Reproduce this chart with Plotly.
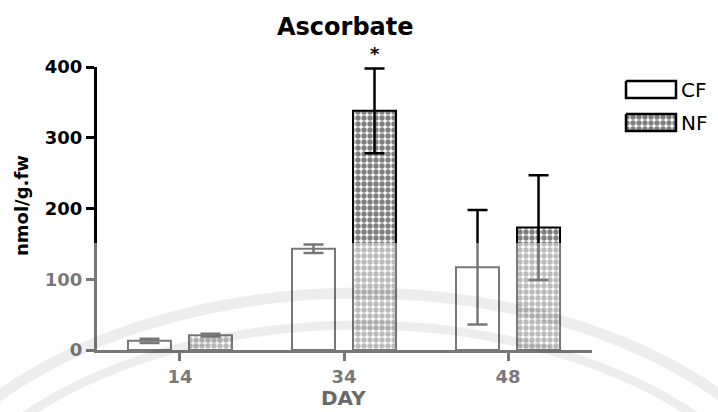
import plotly.graph_objects as go

# Ascorbate content (nmol/g.fw) by sampling day, mean and error
days = ["14", "34", "48"]
cf_mean = [13, 143, 117]
cf_err = [3, 6, 81]
nf_mean = [21, 338, 173]
nf_err = [2, 60, 74]
y_ticks = [0, 100, 200, 300, 400]
star_day = "34"

W, H = 718, 412
FONT = "DejaVu Sans"


def px(x):
    return x / W


def py(y):
    return 1 - y / H


checker = dict(shape=".", size=6, solidity=0.62, fgcolor="black", bgcolor="white")

fig = go.Figure()

fig.add_trace(go.Bar(
    name="CF", x=days, y=cf_mean,
    error_y=dict(type="data", array=cf_err, visible=True,
                 color="black", thickness=2.5, width=10),
    marker=dict(color="white", line=dict(color="black", width=2)),
    showlegend=False,
))
fig.add_trace(go.Bar(
    name="NF", x=days, y=nf_mean,
    error_y=dict(type="data", array=nf_err, visible=True,
                 color="black", thickness=2.5, width=10),
    marker=dict(color="white", line=dict(color="black", width=2), pattern=checker),
    showlegend=False,
))

# legend boxes drawn on a full-figure overlay axis (pixel units)
box_x = [626, 676, 676, 626, 626]
fig.add_trace(go.Scatter(
    x=box_x, y=[81, 81, 98, 98, 81], xaxis="x2", yaxis="y2",
    mode="lines", fill="toself", fillcolor="white",
    line=dict(color="black", width=2.5), showlegend=False, hoverinfo="skip",
))
fig.add_trace(go.Scatter(
    x=box_x, y=[114, 114, 131, 131, 114], xaxis="x2", yaxis="y2",
    mode="lines", fill="toself", fillpattern=checker,
    line=dict(color="black", width=2.5), showlegend=False, hoverinfo="skip",
))

si = days.index(star_day)
annotations = [
    dict(text="<b>Ascorbate</b>", x=px(345), y=py(27), xref="paper", yref="paper",
         xanchor="center", yanchor="middle", showarrow=False,
         font=dict(family=FONT, size=24, color="black")),
    dict(text="<b>nmol/g.fw</b>", x=px(21), y=py(206), xref="paper", yref="paper",
         xanchor="center", yanchor="middle", textangle=-90, showarrow=False,
         font=dict(family=FONT, size=18, color="black")),
    dict(text="<b>DAY</b>", x=px(343), y=0, xref="paper", yref="paper",
         xanchor="center", yanchor="bottom", showarrow=False,
         font=dict(family=FONT, size=20, color="#6a6a6a")),
    dict(text="CF", x=px(679), y=py(90), xref="paper", yref="paper",
         xanchor="left", yanchor="middle", showarrow=False,
         font=dict(family=FONT, size=20, color="black")),
    dict(text="NF", x=px(679), y=py(123), xref="paper", yref="paper",
         xanchor="left", yanchor="middle", showarrow=False,
         font=dict(family=FONT, size=20, color="black")),
    dict(text="<b>*</b>", x=si, y=nf_mean[si] + nf_err[si], xref="x", yref="y",
         xshift=31, yshift=2, xanchor="center", yanchor="bottom", showarrow=False,
         font=dict(family=FONT, size=18, color="black")),
]

shapes = [
    # faded lower part of the page
    dict(type="rect", xref="paper", yref="paper", x0=0, x1=1, y0=0, y1=py(243),
         fillcolor="rgba(255,255,255,0.47)", line=dict(width=0), layer="above"),
]
# faint watermark rings
for rx, ry, w in [(479, 300, 11), (447, 268, 9)]:
    cx, cy = 360, 593
    shapes.append(dict(type="circle", xref="paper", yref="paper",
                       x0=px(cx - rx), x1=px(cx + rx), y0=py(cy + ry), y1=py(cy - ry),
                       line=dict(color="rgba(0,0,0,0.07)", width=w), layer="above"))

tick_font = dict(family=FONT, size=18, color="black", weight="bold")

fig.update_layout(
    width=W, height=H,
    margin=dict(l=0, r=0, t=0, b=0, pad=0, autoexpand=False),
    paper_bgcolor="white", plot_bgcolor="rgba(0,0,0,0)",
    barmode="group", bargap=0.256, bargroupgap=0.295,
    annotations=annotations, shapes=shapes,
    xaxis=dict(domain=[px(97), px(592)], range=[-0.506, 2.512],
               showline=True, linecolor="black", linewidth=3,
               ticks="outside", ticklen=8, tickwidth=2.5, tickcolor="black",
               tickfont=tick_font, showgrid=False, zeroline=False, fixedrange=True),
    yaxis=dict(domain=[py(350), py(67)], range=[0, 400], tickvals=y_ticks,
               showline=True, linecolor="black", linewidth=3,
               ticks="outside", ticklen=8, tickwidth=2.5, tickcolor="black",
               tickfont=tick_font, showgrid=False, zeroline=False, fixedrange=True),
    xaxis2=dict(domain=[0, 1], range=[0, W], anchor="y2", visible=False, fixedrange=True),
    yaxis2=dict(domain=[0, 1], range=[H, 0], anchor="x2", visible=False, fixedrange=True),
)

fig.write_html("out.html")
